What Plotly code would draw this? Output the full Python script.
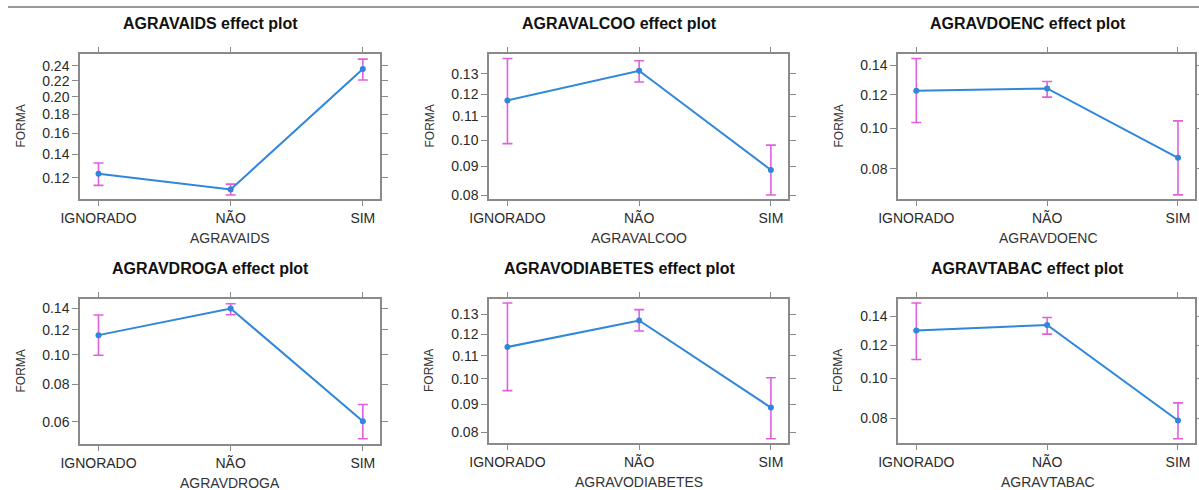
import numpy as np
import plotly.graph_objects as go

categories = ["IGNORADO", "NÃO", "SIM"]

variables = ["AGRAVAIDS", "AGRAVALCOO", "AGRAVDOENC",
             "AGRAVDROGA", "AGRAVODIABETES", "AGRAVTABAC"]

# estimated probabilities (FORMA) and confidence limits
aids_est = [0.1232, 0.1111, 0.2355]
aids_low = [0.1141, 0.1070, 0.2210]
aids_up = [0.1322, 0.1151, 0.2491]

alcoo_est = [0.1171, 0.1315, 0.0886]
alcoo_low = [0.0986, 0.1259, 0.0800]
alcoo_up = [0.1379, 0.1367, 0.0980]

doenc_est = [0.1225, 0.1240, 0.0851]
doenc_low = [0.1033, 0.1184, 0.0692]
doenc_up = [0.1451, 0.1287, 0.1042]

droga_est = [0.1155, 0.1400, 0.0602]
droga_low = [0.0996, 0.1339, 0.0525]
droga_up = [0.1336, 0.1447, 0.0685]

diab_est = [0.1140, 0.1269, 0.0888]
diab_low = [0.0953, 0.1216, 0.0779]
diab_up = [0.1360, 0.1325, 0.1005]

tabac_est = [0.1299, 0.1338, 0.0789]
tabac_low = [0.1110, 0.1274, 0.0711]
tabac_up = [0.1503, 0.1393, 0.0872]

aids_ticks = [0.12, 0.14, 0.16, 0.18, 0.20, 0.22, 0.24]
alcoo_ticks = [0.08, 0.09, 0.10, 0.11, 0.12, 0.13]
doenc_ticks = [0.08, 0.10, 0.12, 0.14]
droga_ticks = [0.06, 0.08, 0.10, 0.12, 0.14]
diab_ticks = [0.08, 0.09, 0.10, 0.11, 0.12, 0.13]
tabac_ticks = [0.08, 0.10, 0.12, 0.14]

estimates = [aids_est, alcoo_est, doenc_est, droga_est, diab_est, tabac_est]
lowers = [aids_low, alcoo_low, doenc_low, droga_low, diab_low, tabac_low]
uppers = [aids_up, alcoo_up, doenc_up, droga_up, diab_up, tabac_up]
ticks = [aids_ticks, alcoo_ticks, doenc_ticks, droga_ticks, diab_ticks, tabac_ticks]

# layout (pixel boxes and y ranges in probability units)
W, H = 1199, 490
boxes = [(80, 380, 54, 199), (489, 788, 54, 199), (898, 1195, 54, 199),
         (80, 380, 299, 444), (489, 788, 299, 443), (898, 1195, 299, 443)]
yranges = [(0.1042, 0.2564), (0.0787, 0.1403), (0.0676, 0.1485),
           (0.0504, 0.1497), (0.0765, 0.1382), (0.0694, 0.1535)]


def logit(p):
    p = np.asarray(p, dtype=float)
    return np.log(p / (1 - p))


LINE = "#2F86DB"
CI = "#E060E0"
FRAME = "#8A8A8A"
FONT = "Liberation Sans, Arial, sans-serif"

fig = go.Figure()
annotations = []

for i in range(6):
    n = i + 1
    xa = "x" if n == 1 else f"x{n}"
    ya = "y" if n == 1 else f"y{n}"
    est = logit(estimates[i])
    up = logit(uppers[i]) - est
    lo = est - logit(lowers[i])

    fig.add_trace(go.Scatter(
        x=categories, y=est, xaxis=xa, yaxis=ya, mode="lines+markers",
        line=dict(color=LINE, width=2), marker=dict(color=LINE, size=6),
        error_y=dict(type="data", symmetric=False, array=up, arrayminus=lo,
                     color=CI, thickness=1.6, width=5),
        showlegend=False, hoverinfo="skip"))

    x0, x1, y0, y1 = boxes[i]
    xd = [x0 / W, x1 / W]
    yd = [1 - y1 / H, 1 - y0 / H]
    axkey = "xaxis" if n == 1 else f"xaxis{n}"
    aykey = "yaxis" if n == 1 else f"yaxis{n}"
    fig.update_layout(**{
        axkey: dict(domain=xd, anchor=ya, type="category", automargin=False,
                    range=[-0.14, 2.13], showgrid=False, zeroline=False,
                    showline=True, mirror="allticks", linecolor=FRAME,
                    linewidth=1.5, ticks="outside", ticklen=5,
                    tickcolor=FRAME, tickwidth=1.2,
                    tickfont=dict(family=FONT, size=14, color="#2a2a2a")),
        aykey: dict(domain=yd, anchor=xa, automargin=False,
                    range=list(logit(yranges[i])),
                    tickvals=list(logit(ticks[i])),
                    ticktext=[f"{t:.2f}" for t in ticks[i]],
                    showgrid=False, zeroline=False,
                    showline=True, mirror="allticks", linecolor=FRAME,
                    linewidth=1.5, ticks="outside", ticklen=6,
                    tickcolor=FRAME, tickwidth=1.2,
                    tickfont=dict(family=FONT, size=14, color="#2a2a2a")),
    })

    cx = (x0 + x1) / 2
    cy = (y0 + y1) / 2
    annotations.append(dict(
        text=f"<b>{variables[i]} effect plot</b>", x=(cx - 19) / W,
        y=1 - (y0 - 31) / H, xref="paper", yref="paper", showarrow=False,
        xanchor="center", yanchor="middle",
        font=dict(family=FONT, size=16, color="#111")))
    annotations.append(dict(
        text=variables[i], x=(x0 + 150) / W, y=1 - (y1 + 39) / H,
        xref="paper", yref="paper", showarrow=False,
        xanchor="center", yanchor="middle",
        font=dict(family=FONT, size=14, color="#333")))
    annotations.append(dict(
        text="FORMA", x=(x0 - 60) / W, y=1 - cy / H, textangle=-90,
        xref="paper", yref="paper", showarrow=False,
        xanchor="center", yanchor="middle",
        font=dict(family=FONT, size=12, color="#333")))

fig.update_layout(
    width=W, height=H, margin=dict(l=0, r=0, t=0, b=0, autoexpand=False),
    paper_bgcolor="white", plot_bgcolor="white",
    annotations=annotations,
    shapes=[dict(type="line", xref="paper", yref="paper",
                 x0=8 / W, x1=1, y0=1 - 7 / H, y1=1 - 7 / H,
                 line=dict(color="#999999", width=2))],
)

fig.write_html("out.html", config={"displayModeBar": False},
               post_script="document.body.style.margin='0px';"
                           "document.body.style.overflow='hidden';")
